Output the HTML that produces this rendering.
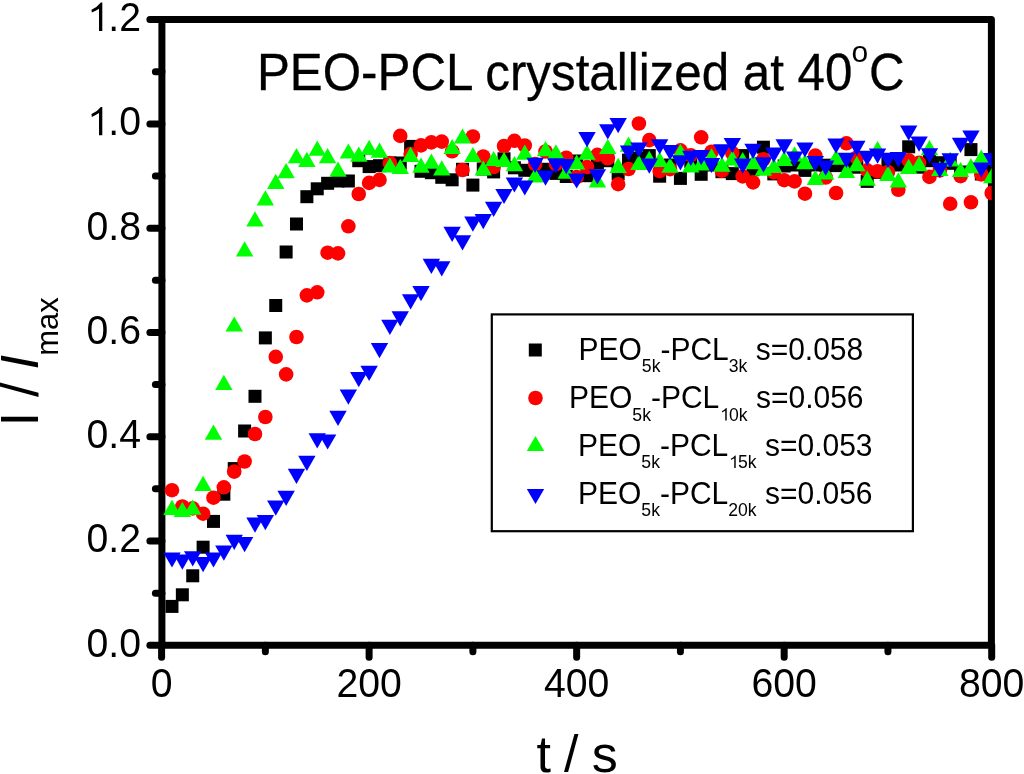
<!DOCTYPE html>
<html><head><meta charset="utf-8"><title>PEO-PCL crystallization chart</title>
<style>html,body{margin:0;padding:0;background:#fff;width:1024px;height:774px;overflow:hidden}</style>
</head><body>
<svg width="1024" height="774" viewBox="0 0 1024 774" style="font-family:'Liberation Sans',sans-serif;display:block;will-change:transform">
<defs><clipPath id="pc"><rect x="0" y="0" width="991.70" height="774"/></clipPath></defs>
<rect width="1024" height="774" fill="#fff"/>
<rect x="161.9" y="19.60" width="829.50" height="625.70" fill="none" stroke="#000" stroke-width="7.0" stroke-linejoin="round"/>
<g stroke="#000" stroke-width="7.00" stroke-linecap="round"><line x1="161.9" y1="645.30" x2="149.90" y2="645.30"/><line x1="161.9" y1="593.16" x2="155.40" y2="593.16"/><line x1="161.9" y1="541.02" x2="149.90" y2="541.02"/><line x1="161.9" y1="488.87" x2="155.40" y2="488.87"/><line x1="161.9" y1="436.73" x2="149.90" y2="436.73"/><line x1="161.9" y1="384.59" x2="155.40" y2="384.59"/><line x1="161.9" y1="332.45" x2="149.90" y2="332.45"/><line x1="161.9" y1="280.31" x2="155.40" y2="280.31"/><line x1="161.9" y1="228.17" x2="149.90" y2="228.17"/><line x1="161.9" y1="176.02" x2="155.40" y2="176.02"/><line x1="161.9" y1="123.88" x2="149.90" y2="123.88"/><line x1="161.9" y1="71.74" x2="155.40" y2="71.74"/><line x1="161.9" y1="19.60" x2="149.90" y2="19.60"/><line x1="161.60" y1="645.30" x2="161.60" y2="657.30"/><line x1="265.36" y1="645.30" x2="265.36" y2="651.80"/><line x1="369.12" y1="645.30" x2="369.12" y2="657.30"/><line x1="472.89" y1="645.30" x2="472.89" y2="651.80"/><line x1="576.65" y1="645.30" x2="576.65" y2="657.30"/><line x1="680.41" y1="645.30" x2="680.41" y2="651.80"/><line x1="784.18" y1="645.30" x2="784.18" y2="657.30"/><line x1="887.94" y1="645.30" x2="887.94" y2="651.80"/><line x1="991.70" y1="645.30" x2="991.70" y2="657.30"/></g>
<g font-size="40"><text x="141" y="656.70" text-anchor="end" transform="translate(141.00 656.70) scale(0.98 1.035) translate(-141.00 -656.70)">0.0</text><text x="141" y="552.42" text-anchor="end" transform="translate(141.00 552.42) scale(0.98 1.035) translate(-141.00 -552.42)">0.2</text><text x="141" y="448.13" text-anchor="end" transform="translate(141.00 448.13) scale(0.98 1.035) translate(-141.00 -448.13)">0.4</text><text x="141" y="343.85" text-anchor="end" transform="translate(141.00 343.85) scale(0.98 1.035) translate(-141.00 -343.85)">0.6</text><text x="141" y="239.57" text-anchor="end" transform="translate(141.00 239.57) scale(0.98 1.035) translate(-141.00 -239.57)">0.8</text><text x="141" y="135.28" text-anchor="end" transform="translate(141.00 135.28) scale(0.98 1.035) translate(-141.00 -135.28)">.0</text><path d="M102.30 106.88L102.30 135.28L99.00 135.28L99.00 113.08Q96.00 115.08 91.80 116.88L91.50 114.08Q97.50 111.28 100.80 106.88Z"/><text x="141" y="31.00" text-anchor="end" transform="translate(141.00 31.00) scale(0.98 1.035) translate(-141.00 -31.00)">.2</text><path d="M102.30 2.60L102.30 31.00L99.00 31.00L99.00 8.80Q96.00 10.80 91.80 12.60L91.50 9.80Q97.50 7.00 100.80 2.60Z"/><text x="161.60" y="697.50" text-anchor="middle" transform="translate(161.60 697.50) scale(0.98 1.035) translate(-161.60 -697.50)">0</text><text x="369.12" y="697.50" text-anchor="middle" transform="translate(369.12 697.50) scale(0.98 1.035) translate(-369.12 -697.50)">200</text><text x="576.65" y="697.50" text-anchor="middle" transform="translate(576.65 697.50) scale(0.98 1.035) translate(-576.65 -697.50)">400</text><text x="784.18" y="697.50" text-anchor="middle" transform="translate(784.18 697.50) scale(0.98 1.035) translate(-784.18 -697.50)">600</text><text x="991.70" y="697.50" text-anchor="middle" transform="translate(991.70 697.50) scale(0.98 1.035) translate(-991.70 -697.50)">800</text></g>
<g transform="translate(0 89.8) scale(1 1.06) translate(0 -89.8)" font-size="49.3" stroke="#000" stroke-width="0.3"><text x="257" y="89.8">PEO-PCL crystallized at 40</text><text x="869.13" y="89.8">C</text></g><text x="851.6" y="61.8" font-size="30">o</text>
<text y="771.5" font-size="52"><tspan x="536.5">t</tspan><tspan x="564">/</tspan><tspan x="591.8">s</tspan></text>
<text transform="translate(38.2,426.5) rotate(-90)" font-size="53">I / <tspan font-style="italic" dx="-1.8">I</tspan><tspan font-size="31" dy="19.5" dx="-1.2">max</tspan></text>
<g clip-path="url(#pc)"><g fill="#000"><rect x="165.48" y="599.90" width="13.0" height="13.0"/><rect x="175.85" y="588.30" width="13.0" height="13.0"/><rect x="186.23" y="569.30" width="13.0" height="13.0"/><rect x="196.61" y="540.70" width="13.0" height="13.0"/><rect x="206.98" y="514.90" width="13.0" height="13.0"/><rect x="217.36" y="487.70" width="13.0" height="13.0"/><rect x="227.73" y="462.10" width="13.0" height="13.0"/><rect x="238.11" y="424.50" width="13.0" height="13.0"/><rect x="248.49" y="389.80" width="13.0" height="13.0"/><rect x="258.86" y="331.40" width="13.0" height="13.0"/><rect x="269.24" y="299.00" width="13.0" height="13.0"/><rect x="279.62" y="245.50" width="13.0" height="13.0"/><rect x="289.99" y="217.50" width="13.0" height="13.0"/><rect x="300.37" y="190.20" width="13.0" height="13.0"/><rect x="310.74" y="182.30" width="13.0" height="13.0"/><rect x="321.12" y="176.80" width="13.0" height="13.0"/><rect x="331.50" y="174.50" width="13.0" height="13.0"/><rect x="341.87" y="174.50" width="13.0" height="13.0"/><rect x="352.25" y="154.20" width="13.0" height="13.0"/><rect x="362.63" y="160.10" width="13.0" height="13.0"/><rect x="373.00" y="159.20" width="13.0" height="13.0"/><rect x="383.38" y="156.50" width="13.0" height="13.0"/><rect x="393.75" y="156.50" width="13.0" height="13.0"/><rect x="404.13" y="139.90" width="13.0" height="13.0"/><rect x="414.51" y="164.80" width="13.0" height="13.0"/><rect x="424.88" y="166.20" width="13.0" height="13.0"/><rect x="435.26" y="170.80" width="13.0" height="13.0"/><rect x="445.64" y="173.30" width="13.0" height="13.0"/><rect x="456.01" y="162.80" width="13.0" height="13.0"/><rect x="466.39" y="178.60" width="13.0" height="13.0"/><rect x="476.77" y="162.50" width="13.0" height="13.0"/><rect x="487.14" y="165.40" width="13.0" height="13.0"/><rect x="497.52" y="152.30" width="13.0" height="13.0"/><rect x="507.89" y="161.30" width="13.0" height="13.0"/><rect x="518.27" y="163.80" width="13.0" height="13.0"/><rect x="528.65" y="163.50" width="13.0" height="13.0"/><rect x="539.02" y="162.80" width="13.0" height="13.0"/><rect x="549.40" y="166.90" width="13.0" height="13.0"/><rect x="559.78" y="170.00" width="13.0" height="13.0"/><rect x="570.15" y="154.50" width="13.0" height="13.0"/><rect x="580.53" y="169.20" width="13.0" height="13.0"/><rect x="590.90" y="156.40" width="13.0" height="13.0"/><rect x="601.28" y="154.20" width="13.0" height="13.0"/><rect x="611.66" y="167.10" width="13.0" height="13.0"/><rect x="622.03" y="153.60" width="13.0" height="13.0"/><rect x="632.41" y="151.50" width="13.0" height="13.0"/><rect x="642.79" y="149.10" width="13.0" height="13.0"/><rect x="653.16" y="169.70" width="13.0" height="13.0"/><rect x="663.54" y="158.50" width="13.0" height="13.0"/><rect x="673.92" y="171.90" width="13.0" height="13.0"/><rect x="684.29" y="154.90" width="13.0" height="13.0"/><rect x="694.67" y="167.80" width="13.0" height="13.0"/><rect x="705.04" y="158.50" width="13.0" height="13.0"/><rect x="715.42" y="165.20" width="13.0" height="13.0"/><rect x="725.80" y="167.10" width="13.0" height="13.0"/><rect x="736.17" y="149.10" width="13.0" height="13.0"/><rect x="746.55" y="163.20" width="13.0" height="13.0"/><rect x="756.93" y="140.70" width="13.0" height="13.0"/><rect x="767.30" y="167.40" width="13.0" height="13.0"/><rect x="777.68" y="159.50" width="13.0" height="13.0"/><rect x="788.05" y="158.50" width="13.0" height="13.0"/><rect x="798.43" y="163.90" width="13.0" height="13.0"/><rect x="808.81" y="158.50" width="13.0" height="13.0"/><rect x="819.18" y="158.70" width="13.0" height="13.0"/><rect x="829.56" y="159.10" width="13.0" height="13.0"/><rect x="839.94" y="158.50" width="13.0" height="13.0"/><rect x="850.31" y="160.70" width="13.0" height="13.0"/><rect x="860.69" y="174.90" width="13.0" height="13.0"/><rect x="871.06" y="165.90" width="13.0" height="13.0"/><rect x="881.44" y="156.80" width="13.0" height="13.0"/><rect x="891.82" y="158.50" width="13.0" height="13.0"/><rect x="902.19" y="140.30" width="13.0" height="13.0"/><rect x="912.57" y="160.70" width="13.0" height="13.0"/><rect x="922.95" y="154.20" width="13.0" height="13.0"/><rect x="933.32" y="156.20" width="13.0" height="13.0"/><rect x="943.70" y="156.80" width="13.0" height="13.0"/><rect x="954.08" y="165.50" width="13.0" height="13.0"/><rect x="964.45" y="143.10" width="13.0" height="13.0"/><rect x="974.83" y="167.50" width="13.0" height="13.0"/><rect x="985.20" y="163.50" width="13.0" height="13.0"/></g><g fill="#ff0000"><circle cx="171.98" cy="490.20" r="7.3"/><circle cx="182.35" cy="506.50" r="7.3"/><circle cx="192.73" cy="508.40" r="7.3"/><circle cx="203.11" cy="513.70" r="7.3"/><circle cx="213.48" cy="497.70" r="7.3"/><circle cx="223.86" cy="487.30" r="7.3"/><circle cx="234.23" cy="471.60" r="7.3"/><circle cx="244.61" cy="461.50" r="7.3"/><circle cx="254.99" cy="434.00" r="7.3"/><circle cx="265.36" cy="417.00" r="7.3"/><circle cx="275.74" cy="356.80" r="7.3"/><circle cx="286.12" cy="374.40" r="7.3"/><circle cx="296.49" cy="337.00" r="7.3"/><circle cx="306.87" cy="295.40" r="7.3"/><circle cx="317.24" cy="292.30" r="7.3"/><circle cx="327.62" cy="252.70" r="7.3"/><circle cx="338.00" cy="253.40" r="7.3"/><circle cx="348.37" cy="226.30" r="7.3"/><circle cx="358.75" cy="194.00" r="7.3"/><circle cx="369.13" cy="182.90" r="7.3"/><circle cx="379.50" cy="179.90" r="7.3"/><circle cx="389.88" cy="163.00" r="7.3"/><circle cx="400.25" cy="135.90" r="7.3"/><circle cx="410.63" cy="154.10" r="7.3"/><circle cx="421.01" cy="145.40" r="7.3"/><circle cx="431.38" cy="142.40" r="7.3"/><circle cx="441.76" cy="141.60" r="7.3"/><circle cx="452.14" cy="151.30" r="7.3"/><circle cx="462.51" cy="170.00" r="7.3"/><circle cx="472.89" cy="136.50" r="7.3"/><circle cx="483.27" cy="156.50" r="7.3"/><circle cx="493.64" cy="167.00" r="7.3"/><circle cx="504.02" cy="146.00" r="7.3"/><circle cx="514.39" cy="140.80" r="7.3"/><circle cx="524.77" cy="145.50" r="7.3"/><circle cx="535.15" cy="164.10" r="7.3"/><circle cx="545.52" cy="151.50" r="7.3"/><circle cx="555.90" cy="164.10" r="7.3"/><circle cx="566.28" cy="157.70" r="7.3"/><circle cx="576.65" cy="177.10" r="7.3"/><circle cx="587.03" cy="167.00" r="7.3"/><circle cx="597.40" cy="154.80" r="7.3"/><circle cx="607.78" cy="158.30" r="7.3"/><circle cx="618.16" cy="184.20" r="7.3"/><circle cx="628.53" cy="169.00" r="7.3"/><circle cx="638.91" cy="123.50" r="7.3"/><circle cx="649.29" cy="140.10" r="7.3"/><circle cx="659.66" cy="171.10" r="7.3"/><circle cx="670.04" cy="169.10" r="7.3"/><circle cx="680.42" cy="150.40" r="7.3"/><circle cx="690.79" cy="155.20" r="7.3"/><circle cx="701.17" cy="137.30" r="7.3"/><circle cx="711.54" cy="151.70" r="7.3"/><circle cx="721.92" cy="170.80" r="7.3"/><circle cx="732.30" cy="153.00" r="7.3"/><circle cx="742.67" cy="176.40" r="7.3"/><circle cx="753.05" cy="182.40" r="7.3"/><circle cx="763.43" cy="159.40" r="7.3"/><circle cx="773.80" cy="172.40" r="7.3"/><circle cx="784.18" cy="180.20" r="7.3"/><circle cx="794.55" cy="181.40" r="7.3"/><circle cx="804.93" cy="193.70" r="7.3"/><circle cx="815.31" cy="155.60" r="7.3"/><circle cx="825.68" cy="177.50" r="7.3"/><circle cx="836.06" cy="193.00" r="7.3"/><circle cx="846.44" cy="143.30" r="7.3"/><circle cx="856.81" cy="157.50" r="7.3"/><circle cx="867.19" cy="170.40" r="7.3"/><circle cx="877.56" cy="171.40" r="7.3"/><circle cx="887.94" cy="172.00" r="7.3"/><circle cx="898.32" cy="189.80" r="7.3"/><circle cx="908.69" cy="160.30" r="7.3"/><circle cx="919.07" cy="162.90" r="7.3"/><circle cx="929.45" cy="176.90" r="7.3"/><circle cx="939.82" cy="170.40" r="7.3"/><circle cx="950.20" cy="203.80" r="7.3"/><circle cx="960.58" cy="176.10" r="7.3"/><circle cx="970.95" cy="202.30" r="7.3"/><circle cx="981.33" cy="174.40" r="7.3"/><circle cx="991.70" cy="193.00" r="7.3"/></g><g fill="#00ff00"><path d="M171.98 499.80L180.68 515.00L163.28 515.00Z"/><path d="M182.35 501.70L191.05 516.90L173.65 516.90Z"/><path d="M192.73 499.50L201.43 514.70L184.03 514.70Z"/><path d="M203.11 475.80L211.81 491.00L194.41 491.00Z"/><path d="M213.48 424.60L222.18 439.80L204.78 439.80Z"/><path d="M223.86 374.80L232.56 390.00L215.16 390.00Z"/><path d="M234.23 316.40L242.93 331.60L225.53 331.60Z"/><path d="M244.61 241.30L253.31 256.50L235.91 256.50Z"/><path d="M254.99 211.20L263.69 226.40L246.29 226.40Z"/><path d="M265.36 190.20L274.06 205.40L256.66 205.40Z"/><path d="M275.74 173.80L284.44 189.00L267.04 189.00Z"/><path d="M286.12 163.10L294.82 178.30L277.42 178.30Z"/><path d="M296.49 148.10L305.19 163.30L287.79 163.30Z"/><path d="M306.87 151.80L315.57 167.00L298.17 167.00Z"/><path d="M317.24 140.50L325.94 155.70L308.54 155.70Z"/><path d="M327.62 148.00L336.32 163.20L318.92 163.20Z"/><path d="M338.00 161.60L346.70 176.80L329.30 176.80Z"/><path d="M348.37 143.40L357.07 158.60L339.67 158.60Z"/><path d="M358.75 146.50L367.45 161.70L350.05 161.70Z"/><path d="M369.13 139.80L377.83 155.00L360.43 155.00Z"/><path d="M379.50 142.60L388.20 157.80L370.80 157.80Z"/><path d="M389.88 157.40L398.58 172.60L381.18 172.60Z"/><path d="M400.25 158.80L408.95 174.00L391.55 174.00Z"/><path d="M410.63 146.70L419.33 161.90L401.93 161.90Z"/><path d="M421.01 157.50L429.71 172.70L412.31 172.70Z"/><path d="M431.38 153.60L440.08 168.80L422.68 168.80Z"/><path d="M441.76 160.30L450.46 175.50L433.06 175.50Z"/><path d="M452.14 138.90L460.84 154.10L443.44 154.10Z"/><path d="M462.51 128.40L471.21 143.60L453.81 143.60Z"/><path d="M472.89 146.90L481.59 162.10L464.19 162.10Z"/><path d="M483.27 160.40L491.97 175.60L474.57 175.60Z"/><path d="M493.64 150.90L502.34 166.10L484.94 166.10Z"/><path d="M504.02 151.80L512.72 167.00L495.32 167.00Z"/><path d="M514.39 156.10L523.09 171.30L505.69 171.30Z"/><path d="M524.77 144.60L533.47 159.80L516.07 159.80Z"/><path d="M535.15 167.40L543.85 182.60L526.45 182.60Z"/><path d="M545.52 141.10L554.22 156.30L536.82 156.30Z"/><path d="M555.90 144.30L564.60 159.50L547.20 159.50Z"/><path d="M566.28 163.50L574.98 178.70L557.58 178.70Z"/><path d="M576.65 154.40L585.35 169.60L567.95 169.60Z"/><path d="M587.03 144.60L595.73 159.80L578.33 159.80Z"/><path d="M597.40 172.20L606.10 187.40L588.70 187.40Z"/><path d="M607.78 138.90L616.48 154.10L599.08 154.10Z"/><path d="M618.16 157.70L626.86 172.90L609.46 172.90Z"/><path d="M628.53 136.60L637.23 151.80L619.83 151.80Z"/><path d="M638.91 154.70L647.61 169.90L630.21 169.90Z"/><path d="M649.29 150.80L657.99 166.00L640.59 166.00Z"/><path d="M659.66 151.80L668.36 167.00L650.96 167.00Z"/><path d="M670.04 157.60L678.74 172.80L661.34 172.80Z"/><path d="M680.42 143.70L689.12 158.90L671.72 158.90Z"/><path d="M690.79 157.20L699.49 172.40L682.09 172.40Z"/><path d="M701.17 155.40L709.87 170.60L692.47 170.60Z"/><path d="M711.54 148.20L720.24 163.40L702.84 163.40Z"/><path d="M721.92 156.60L730.62 171.80L713.22 171.80Z"/><path d="M732.30 150.20L741.00 165.40L723.60 165.40Z"/><path d="M742.67 152.10L751.37 167.30L733.97 167.30Z"/><path d="M753.05 154.00L761.75 169.20L744.35 169.20Z"/><path d="M763.43 160.50L772.13 175.70L754.73 175.70Z"/><path d="M773.80 157.90L782.50 173.10L765.10 173.10Z"/><path d="M784.18 150.80L792.88 166.00L775.48 166.00Z"/><path d="M794.55 146.30L803.25 161.50L785.85 161.50Z"/><path d="M804.93 154.00L813.63 169.20L796.23 169.20Z"/><path d="M815.31 169.90L824.01 185.10L806.61 185.10Z"/><path d="M825.68 164.40L834.38 179.60L816.98 179.60Z"/><path d="M836.06 149.50L844.76 164.70L827.36 164.70Z"/><path d="M846.44 162.80L855.14 178.00L837.74 178.00Z"/><path d="M856.81 156.00L865.51 171.20L848.11 171.20Z"/><path d="M867.19 170.60L875.89 185.80L858.49 185.80Z"/><path d="M877.56 140.90L886.26 156.10L868.86 156.10Z"/><path d="M887.94 165.80L896.64 181.00L879.24 181.00Z"/><path d="M898.32 172.30L907.02 187.50L889.62 187.50Z"/><path d="M908.69 158.70L917.39 173.90L899.99 173.90Z"/><path d="M919.07 156.10L927.77 171.30L910.37 171.30Z"/><path d="M929.45 140.00L938.15 155.20L920.75 155.20Z"/><path d="M939.82 160.80L948.52 176.00L931.12 176.00Z"/><path d="M950.20 151.40L958.90 166.60L941.50 166.60Z"/><path d="M960.58 161.90L969.28 177.10L951.88 177.10Z"/><path d="M970.95 158.00L979.65 173.20L962.25 173.20Z"/><path d="M981.33 149.50L990.03 164.70L972.63 164.70Z"/><path d="M991.70 168.10L1000.40 183.30L983.00 183.30Z"/></g><g fill="#0000ff"><path d="M171.98 567.60L180.68 552.40L163.28 552.40Z"/><path d="M182.35 569.70L191.05 554.50L173.65 554.50Z"/><path d="M192.73 566.50L201.43 551.30L184.03 551.30Z"/><path d="M203.11 572.30L211.81 557.10L194.41 557.10Z"/><path d="M213.48 567.60L222.18 552.40L204.78 552.40Z"/><path d="M223.86 560.70L232.56 545.50L215.16 545.50Z"/><path d="M234.23 550.00L242.93 534.80L225.53 534.80Z"/><path d="M244.61 552.30L253.31 537.10L235.91 537.10Z"/><path d="M254.99 532.80L263.69 517.60L246.29 517.60Z"/><path d="M265.36 530.30L274.06 515.10L256.66 515.10Z"/><path d="M275.74 515.70L284.44 500.50L267.04 500.50Z"/><path d="M286.12 506.00L294.82 490.80L277.42 490.80Z"/><path d="M296.49 484.00L305.19 468.80L287.79 468.80Z"/><path d="M306.87 471.00L315.57 455.80L298.17 455.80Z"/><path d="M317.24 448.40L325.94 433.20L308.54 433.20Z"/><path d="M327.62 449.60L336.32 434.40L318.92 434.40Z"/><path d="M338.00 425.90L346.70 410.70L329.30 410.70Z"/><path d="M348.37 404.70L357.07 389.50L339.67 389.50Z"/><path d="M358.75 387.20L367.45 372.00L350.05 372.00Z"/><path d="M369.13 381.00L377.83 365.80L360.43 365.80Z"/><path d="M379.50 358.30L388.20 343.10L370.80 343.10Z"/><path d="M389.88 335.00L398.58 319.80L381.18 319.80Z"/><path d="M400.25 326.40L408.95 311.20L391.55 311.20Z"/><path d="M410.63 309.40L419.33 294.20L401.93 294.20Z"/><path d="M421.01 301.30L429.71 286.10L412.31 286.10Z"/><path d="M431.38 273.90L440.08 258.70L422.68 258.70Z"/><path d="M441.76 276.40L450.46 261.20L433.06 261.20Z"/><path d="M452.14 241.90L460.84 226.70L443.44 226.70Z"/><path d="M462.51 250.50L471.21 235.30L453.81 235.30Z"/><path d="M472.89 231.80L481.59 216.60L464.19 216.60Z"/><path d="M483.27 229.20L491.97 214.00L474.57 214.00Z"/><path d="M493.64 216.90L502.34 201.70L484.94 201.70Z"/><path d="M504.02 204.10L512.72 188.90L495.32 188.90Z"/><path d="M514.39 192.60L523.09 177.40L505.69 177.40Z"/><path d="M524.77 195.60L533.47 180.40L516.07 180.40Z"/><path d="M535.15 172.90L543.85 157.70L526.45 157.70Z"/><path d="M545.52 185.70L554.22 170.50L536.82 170.50Z"/><path d="M555.90 173.50L564.60 158.30L547.20 158.30Z"/><path d="M566.28 174.30L574.98 159.10L557.58 159.10Z"/><path d="M576.65 188.60L585.35 173.40L567.95 173.40Z"/><path d="M587.03 147.30L595.73 132.10L578.33 132.10Z"/><path d="M597.40 184.50L606.10 169.30L588.70 169.30Z"/><path d="M607.78 139.40L616.48 124.20L599.08 124.20Z"/><path d="M618.16 133.20L626.86 118.00L609.46 118.00Z"/><path d="M628.53 160.80L637.23 145.60L619.83 145.60Z"/><path d="M638.91 157.60L647.61 142.40L630.21 142.40Z"/><path d="M649.29 173.70L657.99 158.50L640.59 158.50Z"/><path d="M659.66 154.40L668.36 139.20L650.96 139.20Z"/><path d="M670.04 160.20L678.74 145.00L661.34 145.00Z"/><path d="M680.42 170.50L689.12 155.30L671.72 155.30Z"/><path d="M690.79 166.00L699.49 150.80L682.09 150.80Z"/><path d="M701.17 165.30L709.87 150.10L692.47 150.10Z"/><path d="M711.54 173.10L720.24 157.90L702.84 157.90Z"/><path d="M721.92 159.50L730.62 144.30L713.22 144.30Z"/><path d="M732.30 153.10L741.00 137.90L723.60 137.90Z"/><path d="M742.67 173.70L751.37 158.50L733.97 158.50Z"/><path d="M753.05 158.90L761.75 143.70L744.35 143.70Z"/><path d="M763.43 172.50L772.13 157.30L754.73 157.30Z"/><path d="M773.80 162.80L782.50 147.60L765.10 147.60Z"/><path d="M784.18 154.40L792.88 139.20L775.48 139.20Z"/><path d="M794.55 166.60L803.25 151.40L785.85 151.40Z"/><path d="M804.93 157.60L813.63 142.40L796.23 142.40Z"/><path d="M815.31 171.20L824.01 156.00L806.61 156.00Z"/><path d="M825.68 175.70L834.38 160.50L816.98 160.50Z"/><path d="M836.06 153.70L844.76 138.50L827.36 138.50Z"/><path d="M846.44 167.90L855.14 152.70L837.74 152.70Z"/><path d="M856.81 155.90L865.51 140.70L848.11 140.70Z"/><path d="M867.19 166.00L875.89 150.80L858.49 150.80Z"/><path d="M877.56 163.70L886.26 148.50L868.86 148.50Z"/><path d="M887.94 167.90L896.64 152.70L879.24 152.70Z"/><path d="M898.32 167.30L907.02 152.10L889.62 152.10Z"/><path d="M908.69 140.80L917.39 125.60L899.99 125.60Z"/><path d="M919.07 151.80L927.77 136.60L910.37 136.60Z"/><path d="M929.45 163.40L938.15 148.20L920.75 148.20Z"/><path d="M939.82 178.00L948.52 162.80L931.12 162.80Z"/><path d="M950.20 168.40L958.90 153.20L941.50 153.20Z"/><path d="M960.58 152.90L969.28 137.70L951.88 137.70Z"/><path d="M970.95 145.60L979.65 130.40L962.25 130.40Z"/><path d="M981.33 177.60L990.03 162.40L972.63 162.40Z"/><path d="M991.70 168.30L1000.40 153.10L983.00 153.10Z"/></g></g>
<rect x="491.8" y="314.4" width="421.1" height="216.8" fill="#fff" stroke="#000" stroke-width="2.2"/>
<rect x="528.80" y="343.50" width="13.0" height="13.0"/>
<g fill="#ff0000"><circle cx="535.50" cy="398.00" r="7.3"/></g>
<g fill="#00ff00"><path d="M535.50 435.90L544.20 451.10L526.80 451.10Z"/></g>
<g fill="#0000ff"><path d="M535.50 504.10L544.20 488.90L526.80 488.90Z"/></g>
<g font-size="30" style="white-space:pre"><text x="578.5" y="360.2" transform="translate(0 360.2) scale(1 1.075) translate(0 -360.2)">PEO</text><text x="641.85" y="372.40" font-size="17.6">5k</text><text x="660.42" y="360.2" transform="translate(0 360.2) scale(1 1.075) translate(0 -360.2)">-PCL</text><text x="728.77" y="372.40" font-size="17.6">3k</text><text x="755.69" y="360.2" transform="translate(0 360.2) scale(1 1.075) translate(0 -360.2)">s=0.058</text><text x="569.0" y="408.4" transform="translate(0 408.4) scale(1 1.075) translate(0 -408.4)">PEO</text><text x="632.35" y="420.60" font-size="17.6">5k</text><text x="650.92" y="408.4" transform="translate(0 408.4) scale(1 1.075) translate(0 -408.4)">-PCL</text><path d="M726.71 408.10L726.71 420.60L725.25 420.60L725.25 410.83Q723.93 411.71 722.09 412.50L721.95 411.27Q724.59 410.04 726.05 408.10Z"/><text x="729.06" y="420.60" font-size="17.6">0k</text><text x="755.98" y="408.4" transform="translate(0 408.4) scale(1 1.075) translate(0 -408.4)">s=0.056</text><text x="578.0" y="455.8" transform="translate(0 455.8) scale(1 1.075) translate(0 -455.8)">PEO</text><text x="641.35" y="468.00" font-size="17.6">5k</text><text x="659.92" y="455.8" transform="translate(0 455.8) scale(1 1.075) translate(0 -455.8)">-PCL</text><path d="M735.71 455.50L735.71 468.00L734.25 468.00L734.25 458.23Q732.93 459.11 731.09 459.90L730.95 458.67Q733.59 457.44 735.05 455.50Z"/><text x="738.06" y="468.00" font-size="17.6">5k</text><text x="764.98" y="455.8" transform="translate(0 455.8) scale(1 1.075) translate(0 -455.8)">s=0.053</text><text x="578.0" y="503.8" transform="translate(0 503.8) scale(1 1.075) translate(0 -503.8)">PEO</text><text x="641.35" y="516.00" font-size="17.6">5k</text><text x="659.92" y="503.8" transform="translate(0 503.8) scale(1 1.075) translate(0 -503.8)">-PCL</text><text x="728.27" y="516.00" font-size="17.6">20k</text><text x="764.98" y="503.8" transform="translate(0 503.8) scale(1 1.075) translate(0 -503.8)">s=0.056</text></g>
</svg>
</body></html>
